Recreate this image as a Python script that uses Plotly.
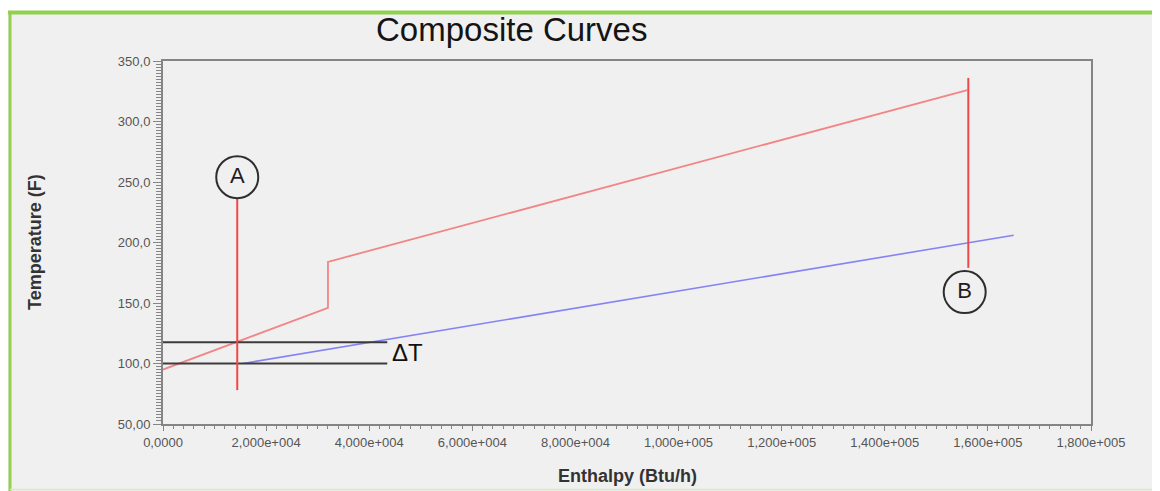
import plotly.graph_objects as go

# ---- data ----
hot_H = [0, 32000, 32000, 156000]
hot_T = [95, 146, 184, 326]

cold_H = [15500, 165000]
cold_T = [100, 206]

A_H = [14400, 14400]
A_T = [78, 236]
B_H = [156200, 156200]
B_T = [179, 336]

dT_H = [0, 43500]
dT_upper = [117.5, 117.5]
dT_lower = [100, 100]

labels = ["A", "B"]
label_H = [14400, 155500]
label_T = [254, 159]

y_ticks = [50, 100, 150, 200, 250, 300, 350]
y_ticktext = ["50,00", "100,0", "150,0", "200,0", "250,0", "300,0", "350,0"]
x_ticks = [0, 20000, 40000, 60000, 80000, 100000, 120000, 140000, 160000, 180000]
x_ticktext = ["0,0000", "2,000e+004", "4,000e+004", "6,000e+004", "8,000e+004",
              "1,000e+005", "1,200e+005", "1,400e+005", "1,600e+005", "1,800e+005"]

# ---- layout geometry (pixels, in page coordinates) ----
OFF = 8                      # default page body margin
PAGE_W, PAGE_H = 1160, 491
W, H = PAGE_W - OFF, PAGE_H - OFF
L, R, T, B = 163, 1091, 61, 424
pw, ph = R - L, B - T


def px(x):
    return (x - L) / pw


def py(y):
    return (B - y) / ph


fig = go.Figure()

fig.add_trace(go.Scatter(x=hot_H, y=hot_T, mode="lines",
                         line=dict(color="#f28585", width=1.8), hoverinfo="skip"))
fig.add_trace(go.Scatter(x=cold_H, y=cold_T, mode="lines",
                         line=dict(color="#8484f5", width=1.6), hoverinfo="skip"))
fig.add_trace(go.Scatter(x=dT_H, y=dT_upper, mode="lines",
                         line=dict(color="#3c3c3c", width=2), hoverinfo="skip"))
fig.add_trace(go.Scatter(x=dT_H, y=dT_lower, mode="lines",
                         line=dict(color="#3c3c3c", width=2), hoverinfo="skip"))
fig.add_trace(go.Scatter(x=A_H, y=A_T, mode="lines",
                         line=dict(color="#f04848", width=2), hoverinfo="skip"))
fig.add_trace(go.Scatter(x=B_H, y=B_T, mode="lines",
                         line=dict(color="#f04848", width=2), hoverinfo="skip"))
fig.add_trace(go.Scatter(x=label_H, y=label_T, mode="markers+text",
                         text=labels, textposition="middle center",
                         textfont=dict(family="Liberation Sans", size=22, color="#1e1e1e"),
                         marker=dict(symbol="circle", size=42, color="rgba(0,0,0,0)",
                                     line=dict(color="#2e2e2e", width=2)),
                         hoverinfo="skip"))

shapes = [
    dict(type="rect", xref="paper", yref="paper", layer="below",
         x0=px(8), x1=px(1160), y0=py(491), y1=py(11),
         fillcolor="#f0f0f0", line=dict(width=0)),
    dict(type="line", xref="paper", yref="paper",
         x0=px(8), x1=px(1160), y0=py(12.5), y1=py(12.5),
         line=dict(color="#92d050", width=4)),
    dict(type="line", xref="paper", yref="paper",
         x0=px(10), x1=px(10), y0=py(11), y1=py(491),
         line=dict(color="#92d050", width=3)),
    dict(type="line", xref="paper", yref="paper",
         x0=px(1158.5), x1=px(1158.5), y0=py(11), y1=py(490),
         line=dict(color="#bfe49a", width=1.5)),
    dict(type="line", xref="paper", yref="paper",
         x0=px(10), x1=px(1159), y0=py(489.5), y1=py(489.5),
         line=dict(color="#d3edbb", width=1.5)),
]

annotations = [
    dict(text="Composite Curves", xref="paper", yref="paper",
         x=px(511), y=py(30), showarrow=False, xanchor="center", yanchor="middle",
         font=dict(family="Liberation Sans", size=33, color="#141414")),
    dict(text="<b>Temperature (F)</b>", xref="paper", yref="paper",
         x=px(35), y=py(242), showarrow=False, textangle=-90,
         xanchor="center", yanchor="middle",
         font=dict(family="Liberation Sans", size=18, color="#333333")),
    dict(text="<b>Enthalpy (Btu/h)</b>", xref="paper", yref="paper",
         x=px(627), y=py(476), showarrow=False, xanchor="center", yanchor="middle",
         font=dict(family="Liberation Sans", size=18, color="#333333")),
    dict(text="ΔT", xref="x", yref="y", x=44000, y=108.7, showarrow=False,
         xanchor="left", yanchor="middle",
         font=dict(family="Liberation Sans", size=24, color="#111111")),
]

fig.update_layout(
    width=W, height=H,
    margin=dict(l=L - OFF, r=PAGE_W - R, t=T - OFF, b=PAGE_H - B, pad=0),
    paper_bgcolor="white",
    plot_bgcolor="#f0f0f0",
    showlegend=False,
    shapes=shapes,
    annotations=annotations,
)

fig.update_xaxes(range=[0, 180000], tickvals=x_ticks, ticktext=x_ticktext,
                 showgrid=False, zeroline=False, showline=True, mirror=True,
                 linecolor="#858585", linewidth=2,
                 ticks="outside", ticklen=5, tickcolor="#858585", tickwidth=1,
                 minor=dict(ticks="outside", ticklen=3, dtick=2000,
                            tickcolor="#858585", tickwidth=1, showgrid=False),
                 tickfont=dict(family="Liberation Sans", size=13, color="#555555"))
fig.update_yaxes(range=[50, 350], tickvals=y_ticks, ticktext=y_ticktext,
                 showgrid=False, zeroline=False, showline=True, mirror=True,
                 linecolor="#858585", linewidth=2,
                 ticks="outside", ticklen=8, tickcolor="#858585", tickwidth=1,
                 minor=dict(ticks="outside", ticklen=5, dtick=2.5,
                            tickcolor="#858585", tickwidth=1, showgrid=False),
                 tickfont=dict(family="Liberation Sans", size=13, color="#555555"))

fig.write_html("out.html")
